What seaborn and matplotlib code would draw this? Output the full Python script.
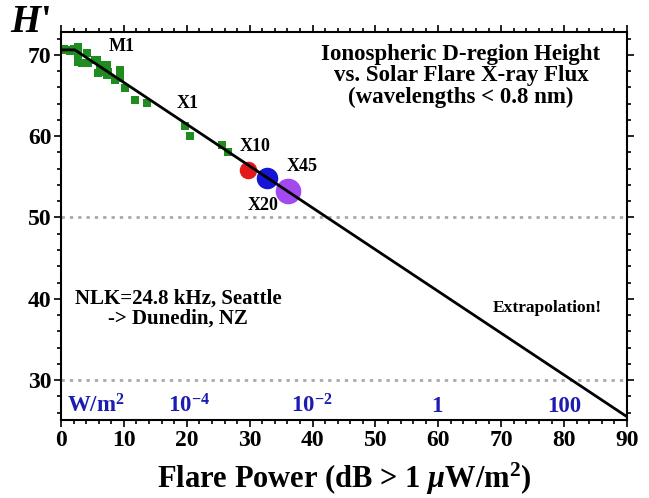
import matplotlib
matplotlib.use("Agg")
import matplotlib.pyplot as plt
import seaborn as sns
from matplotlib.ticker import MultipleLocator

sns.set_style("ticks")
plt.rcParams['font.family'] = ['Liberation Serif', 'DejaVu Serif']
plt.rcParams['text.color'] = 'black'
plt.rcParams['axes.labelcolor'] = 'black'
plt.rcParams['xtick.color'] = 'black'
plt.rcParams['ytick.color'] = 'black'
plt.rcParams['mathtext.fontset'] = 'custom'
plt.rcParams['mathtext.rm'] = 'Liberation Serif:bold'
plt.rcParams['mathtext.it'] = 'Liberation Serif:bold:italic'
plt.rcParams['mathtext.bf'] = 'Liberation Serif:bold'

# Measured flare data (dB, H')
obs_x = [0.0, 0.5, 1.0, 1.5, 2.0, 2.5, 2.7, 2.7, 4.1, 2.7, 3.3, 5.4, 4.3, 5.7,
         6.2, 6.2, 5.9, 7.3, 7.3, 7.5, 9.4, 9.4, 8.6, 10.2, 11.8, 13.7,
         19.7, 20.5, 25.6, 26.5]
obs_h = [70.6, 70.7, 70.6, 70.5, 70.7, 70.6, 70.9, 70.0, 70.2, 69.1, 69.0, 69.4, 69.0, 69.4,
         68.8, 67.9, 67.8, 68.8, 67.5, 67.9, 68.1, 67.2, 66.9, 65.9, 64.5, 64.1,
         61.3, 60.0, 58.9, 58.1]

# Large flares
big_names = ["X10", "X20", "X45"]
big_x = [29.7, 32.7, 36.1]
big_h = [55.8, 54.9, 53.3]
big_colors = ["#e41a1a", "#1515d5", "#a24af0"]
big_sizes = [160, 240, 340]

# Fit line (with extrapolation)
fit_x = [0.0, 2.2, 90.0]
fit_h = [70.6, 70.6, 25.5]

# Class labels
class_names = ["M1", "X1", "X10", "X45", "X20"]
class_x = [9.6, 20.2, 30.8, 38.3, 32.2]
class_h = [71.0, 64.0, 58.7, 56.3, 51.5]

# Flux labels (W/m^2)
flux_labels = ["W/m$^2$", "10$^{-4}$", "10$^{-2}$", "1", "100"]
flux_x = [5.5, 20.3, 39.8, 59.8, 80.0]

fig = plt.figure(figsize=(6.49, 4.98), dpi=100)
ax = fig.add_axes([61/649, 1-420/498, (627-61)/649, (420-32)/498])

ax.axhline(50, color="#aaaaaa", ls=(0, (1.2, 1.8)), lw=2, zorder=1)
ax.axhline(30, color="#aaaaaa", ls=(0, (1.2, 1.8)), lw=2, zorder=1)

sns.scatterplot(x=obs_x, y=obs_h, marker="s", color="#1e8c1e", s=32,
                linewidth=0, ax=ax, zorder=2)
sns.lineplot(x=fit_x, y=fit_h, color="black", lw=2, ax=ax, sort=False,
             estimator=None, zorder=4)
for xx, hh, cc, ss in zip(big_x, big_h, big_colors, big_sizes):
    ax.scatter([xx], [hh], s=ss, color=cc, linewidths=0, zorder=3)

for n, xx, hh in zip(class_names, class_x, class_h):
    ax.text(xx, hh, n, ha="center", va="center", fontsize=13, fontweight="bold")

for lab, xx in zip(flux_labels, flux_x):
    ax.text(xx, 26.8, lab, ha="center", va="center", fontsize=16.5,
            fontweight="bold", color="#1c1cb0")

ax.text(63.6, 67.4, "Ionospheric D-region Height\nvs. Solar Flare X-ray Flux\n(wavelengths < 0.8 nm)",
        ha="center", va="center", fontsize=16.5, fontweight="bold", linespacing=1.03)
ax.text(18.6, 38.8, "NLK=24.8 kHz, Seattle\n-> Dunedin, NZ",
        ha="center", va="center", fontsize=15, fontweight="bold", linespacing=1.05)
ax.text(77.3, 38.9, "Extrapolation!", ha="center", va="center",
        fontsize=12.5, fontweight="bold")

ax.set_xlim(0, 90)
ax.set_ylim(25.1, 72.8)
ax.xaxis.set_major_locator(MultipleLocator(10))
ax.xaxis.set_minor_locator(MultipleLocator(2))
ax.yaxis.set_major_locator(MultipleLocator(10))
ax.yaxis.set_minor_locator(MultipleLocator(2))
ax.set_yticks([30, 40, 50, 60, 70])
ax.tick_params(which="both", top=True, right=True, direction="out", width=1.2, colors="black")
ax.tick_params(which="major", length=5, labelsize=17, pad=2)
ax.tick_params(which="minor", length=3)
for lab in ax.get_xticklabels() + ax.get_yticklabels():
    lab.set_fontweight("bold")
for sp in ax.spines.values():
    sp.set_linewidth(1.5)
    sp.set_color("black")

ax.set_xlabel(r"Flare Power (dB > 1 $\mu$W/m$^2$)", fontsize=22, fontweight="bold", labelpad=7)
ax.set_ylabel("")
fig.text(10/649, 1-22/498, "$H$'", fontsize=28, fontweight="bold", va="center", ha="left")

fig.savefig("out.png", dpi=100)
